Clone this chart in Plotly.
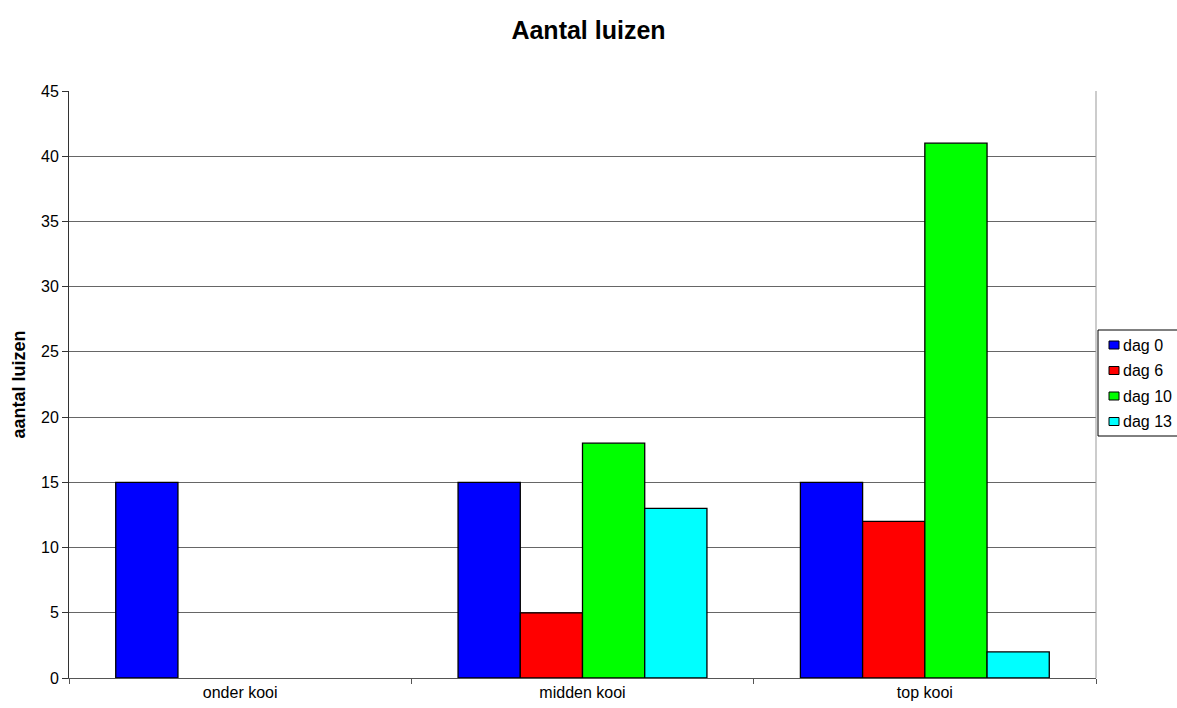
import plotly.graph_objects as go

categories = ["onder kooi", "midden kooi", "top kooi"]
series_names = ["dag 0", "dag 6", "dag 10", "dag 13"]
dag0 = [15, 15, 15]
dag6 = [0, 5, 12]
dag10 = [0, 18, 41]
dag13 = [0, 13, 2]
y_ticks = [0, 5, 10, 15, 20, 25, 30, 35, 40, 45]

colors = ["#0000FF", "#FF0000", "#00FF00", "#00FFFF"]
values = [dag0, dag6, dag10, dag13]

W, H = 1177, 708
M_L, M_R, M_T, M_B = 69, 81, 91, 30
PLOT_W = W - M_L - M_R
PLOT_H = H - M_T - M_B


def px_to_paper(px, py):
    """Convert page pixel position to paper coordinates."""
    return (px - M_L) / PLOT_W, (H - M_B - py) / PLOT_H


fig = go.Figure()
for name, vals, col in zip(series_names, values, colors):
    fig.add_trace(go.Bar(
        x=categories, y=vals, name=name, showlegend=False,
        marker=dict(color=col,
                    line=dict(color="#000000",
                              width=[1.3 if v else 0 for v in vals])),
    ))

font_family = "Liberation Sans, Arial, sans-serif"

# Custom legend: outlined box with small colour squares and labels
shapes = [dict(type="line", xref="paper", yref="paper", x0=1, x1=1, y0=0, y1=1,
               line=dict(color="#999999", width=1))]
annotations = []
bx0, by0 = px_to_paper(1098, 330)
bx1, by1 = px_to_paper(1185, 436)
shapes.append(dict(type="rect", xref="paper", yref="paper",
                   x0=bx0, x1=bx1, y0=by1, y1=by0,
                   line=dict(color="#000000", width=1), fillcolor="white"))
row_y = 345
for name, col in zip(series_names, colors):
    sx0, sy0 = px_to_paper(1109, row_y - 4)
    sx1, sy1 = px_to_paper(1119, row_y + 4)
    shapes.append(dict(type="rect", xref="paper", yref="paper",
                       x0=sx0, x1=sx1, y0=sy1, y1=sy0,
                       line=dict(color="#000000", width=1), fillcolor=col))
    tx, ty = px_to_paper(1121, row_y)
    annotations.append(dict(text=name, xref="paper", yref="paper", x=tx, y=ty,
                            xanchor="left", yanchor="middle", showarrow=False,
                            font=dict(size=16, family=font_family, color="#000000")))
    row_y += 25.5

fig.update_layout(
    width=W, height=H,
    margin=dict(l=M_L, r=M_R, t=M_T, b=M_B, autoexpand=False),
    paper_bgcolor="white", plot_bgcolor="white",
    barmode="group", bargap=0.273, bargroupgap=0,
    font=dict(family=font_family, size=16, color="#000000"),
    title=dict(text="<b>Aantal luizen</b>", x=0.5, xanchor="center",
               y=0.957, yanchor="middle",
               font=dict(size=25, family=font_family, color="#000000")),
    showlegend=False,
    xaxis=dict(
        type="category", showline=True, linecolor="#555555", linewidth=1,
        ticks="outside", tickson="boundaries", ticklen=5, tickcolor="#555555",
        showgrid=False, tickfont=dict(size=16), layer="above traces",
    ),
    yaxis=dict(
        range=[0, 45], tickvals=y_ticks, showline=True, linecolor="#333333",
        linewidth=1, ticks="outside", ticklen=6, tickcolor="#333333",
        showgrid=True, gridcolor="#666666", gridwidth=1, zeroline=False,
        tickfont=dict(size=16),
        title=dict(text="<b>aantal luizen</b>", font=dict(size=18), standoff=10),
    ),
    shapes=shapes,
    annotations=annotations,
)

fig.write_html("out.html")
